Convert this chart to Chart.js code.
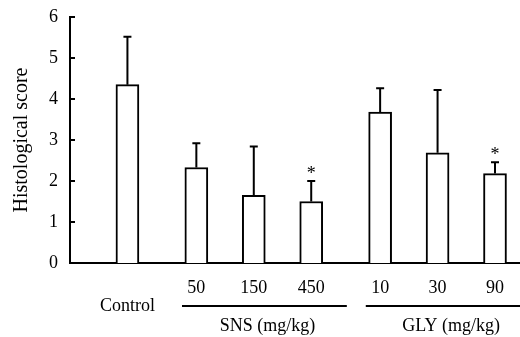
<!DOCTYPE html>
<html>
<head>
<meta charset="utf-8">
<script src="https://cdn.jsdelivr.net/npm/chart.js@4"></script>
<style>
  body { margin: 0; background: #fff; }
  #wrap { width: 520px; height: 337px; }
</style>
</head>
<body>
<div id="wrap"><canvas id="myChart"></canvas></div>
<script>
// data
var categories = ['Control', '50', '150', '450', '10', '30', '90'];
var groupOf = [0, 1, 1, 1, 2, 2, 2];
var groupNames = ['', 'SNS (mg/kg)', 'GLY (mg/kg)'];
var meanScore = [4.35, 2.33, 1.65, 1.5, 3.68, 2.69, 2.18];
var errorScore = [1.17, 0.59, 1.19, 0.5, 0.58, 1.53, 0.28];
var marks = ['', '', '', '*', '', '', '*'];
var yTicks = [0, 1, 2, 3, 4, 5, 6];

var FONT = 'Liberation Serif';
var GROUP_GAP = 0.2;

// slot of each bar on the x scale: one unit per bar plus a gap between groups
var xPos = categories.map(function(c, i) { return i + 1 + groupOf[i] * GROUP_GAP; });

var barData = meanScore.map(function(v, i) { return {x: xPos[i], y: v}; });

var extras = {
  id: 'extras',
  afterDatasetsDraw: function(chart) {
    var ctx = chart.ctx;
    var xs = chart.scales.x, ys = chart.scales.y;
    var area = chart.chartArea;
    ctx.save();
    ctx.strokeStyle = '#000';
    ctx.fillStyle = '#000';
    ctx.lineWidth = 2;

    // error bars + significance marks
    for (var i = 0; i < meanScore.length; i++) {
      var px = xs.getPixelForValue(xPos[i]);
      var y0 = ys.getPixelForValue(meanScore[i]);
      var y1 = ys.getPixelForValue(meanScore[i] + errorScore[i]);
      ctx.beginPath();
      ctx.moveTo(px, y0);
      ctx.lineTo(px, y1);
      ctx.moveTo(px - 4, y1);
      ctx.lineTo(px + 4, y1);
      ctx.stroke();
      if (marks[i]) {
        ctx.font = '18px "' + FONT + '"';
        ctx.textAlign = 'center';
        ctx.textBaseline = 'alphabetic';
        ctx.fillText(marks[i], px, y1 - 2);
      }
    }

    // inward y ticks
    yTicks.forEach(function(t) {
      var py = ys.getPixelForValue(t);
      ctx.beginPath();
      ctx.moveTo(area.left, py);
      ctx.lineTo(area.left + 5, py);
      ctx.stroke();
    });
    ctx.restore();
  },
  afterDraw: function(chart) {
    var ctx = chart.ctx;
    var xs = chart.scales.x;
    var lineY = chart.chartArea.bottom + 43;
    ctx.save();
    ctx.strokeStyle = '#000';
    ctx.fillStyle = '#000';
    ctx.lineWidth = 2;
    ctx.font = '18px "' + FONT + '"';
    ctx.textAlign = 'center';
    ctx.textBaseline = 'middle';
    for (var g = 1; g < groupNames.length; g++) {
      var idx = [];
      groupOf.forEach(function(v, i) { if (v === g) idx.push(i); });
      var x0 = xs.getPixelForValue(xPos[idx[0]] - 0.25);
      var x1 = xs.getPixelForValue(xPos[idx[idx.length - 1]] + 0.62);
      ctx.beginPath();
      ctx.moveTo(x0, lineY);
      ctx.lineTo(x1, lineY);
      ctx.stroke();
      ctx.fillText(groupNames[g], (x0 + x1) / 2 + 3, lineY + 20);
    }
    ctx.restore();
  }
};

var ctx = document.getElementById('myChart').getContext('2d');
var myChart = new Chart(ctx, {
  type: 'bar',
  data: {
    datasets: [{
      data: barData,
      backgroundColor: '#fff',
      borderColor: '#000',
      borderWidth: 2,
      barThickness: 23
    }]
  },
  options: {
    responsive: true,
    maintainAspectRatio: false,
    animation: false,
    layout: { padding: { top: 17, right: 0, bottom: 0, left: 0 } },
    plugins: {
      legend: { display: false },
      tooltip: { enabled: false }
    },
    scales: {
      x: {
        type: 'linear',
        offset: false,
        min: 0,
        max: 7.83,
        grid: { display: false, drawTicks: false },
        border: { display: true, color: '#000', width: 2 },
        afterBuildTicks: function(axis) {
          axis.ticks = xPos.map(function(v) { return {value: v}; });
        },
        afterFit: function(axis) { axis.height = 74; },
        ticks: {
          autoSkip: false,
          maxRotation: 0,
          padding: 16,
          color: '#000',
          font: { family: FONT, size: 18, lineHeight: 1.0 },
          callback: function(v, i) {
            return groupOf[i] === 0 ? ['', categories[i]] : [categories[i]];
          }
        }
      },
      y: {
        min: 0,
        max: 6,
        grid: { display: false, drawTicks: false },
        border: { display: true, color: '#000', width: 2 },
        afterFit: function(axis) {
          axis.width = 70;
          axis.paddingTop = 0;
          axis.paddingBottom = 0;
        },
        ticks: {
          stepSize: 1,
          padding: 12,
          color: '#000',
          font: { family: FONT, size: 18 }
        },
        title: {
          display: true,
          text: 'Histological score',
          color: '#000',
          padding: { top: 10, bottom: 0 },
          font: { family: FONT, size: 20 }
        }
      }
    }
  },
  plugins: [extras]
});
</script>
</body>
</html>
